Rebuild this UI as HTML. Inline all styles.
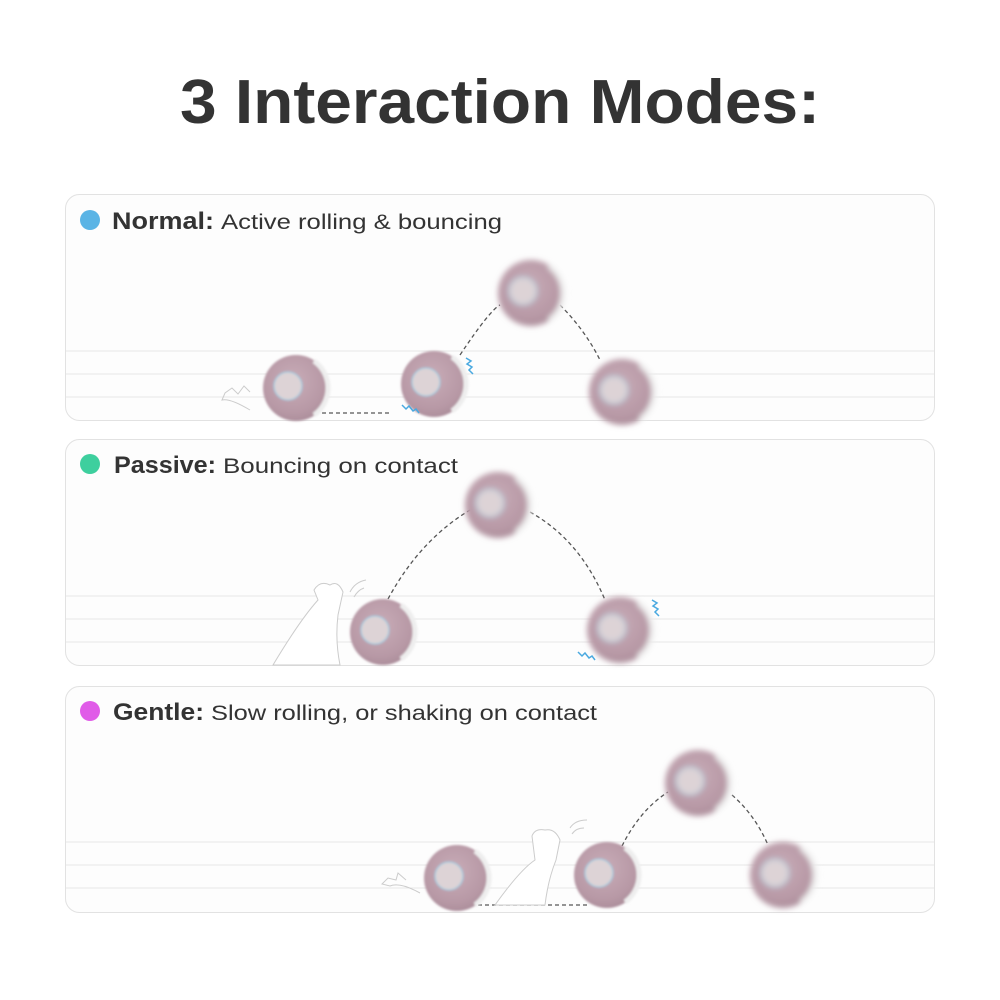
<!DOCTYPE html>
<html><head><meta charset="utf-8"><style>
html,body{margin:0;padding:0;background:#fff;width:1000px;height:1000px;overflow:hidden}
</style></head><body>
<svg width="1000" height="1000" viewBox="0 0 1000 1000" xmlns="http://www.w3.org/2000/svg" font-family="Liberation Sans, sans-serif">
<defs>
<radialGradient id="bg" cx="0.45" cy="0.4" r="0.6">
<stop offset="0" stop-color="#c9adb8"/><stop offset="0.8" stop-color="#b798a5"/><stop offset="1" stop-color="#ad8f9c"/>
</radialGradient>
<filter id="blur" x="-30%" y="-30%" width="160%" height="160%"><feGaussianBlur stdDeviation="3"/></filter>
<filter id="blur2" x="-30%" y="-30%" width="160%" height="160%"><feGaussianBlur stdDeviation="1"/></filter>
<g id="ball">
<circle r="33" fill="url(#bg)"/>
<path d="M18,-27 A33,33 0 0 1 18,27" stroke="#eee" stroke-width="5" fill="none"/>
<circle cx="-8" cy="-2" r="14" fill="#ddd3d6" stroke="#a9c9dc" stroke-width="1.5"/>
</g>
</defs>
<text x="180" y="123" font-size="62" font-weight="bold" fill="#333" textLength="640" lengthAdjust="spacingAndGlyphs">3 Interaction Modes:</text>

<!-- panel 1 -->
<rect x="65.5" y="194.5" width="869" height="226" rx="14" fill="#fdfdfd" stroke="#e2e2e2"/>
<g stroke="#e6e6e6"><line x1="66" y1="351" x2="934" y2="351"/><line x1="66" y1="374" x2="934" y2="374"/><line x1="66" y1="397" x2="934" y2="397"/></g>
<circle cx="90" cy="220" r="10" fill="#5ab4e5"/>
<text x="112" y="229" font-size="24" font-weight="bold" fill="#333" textLength="102" lengthAdjust="spacingAndGlyphs">Normal:</text>
<text x="221" y="229" font-size="21" fill="#333" textLength="281" lengthAdjust="spacingAndGlyphs">Active rolling &amp; bouncing</text>
<g stroke="#555" stroke-width="1.3" stroke-dasharray="4,3" fill="none">
<line x1="322" y1="413" x2="390" y2="413"/>
<path d="M460,355 Q490,310 500,305"/>
<path d="M560,305 Q585,330 600,360"/>
</g>
<path d="M250,410 Q230,398 222,400 L225,393 L232,388 L238,394 L244,386 L250,392" stroke="#ccc" fill="none"/>
<use href="#ball" x="296" y="388" filter="url(#blur2)"/>
<use href="#ball" x="434" y="384" filter="url(#blur2)"/>
<use href="#ball" x="531" y="293" filter="url(#blur)"/>
<use href="#ball" x="622" y="392" filter="url(#blur)"/>
<g stroke="#4aa9e0" stroke-width="1.5" fill="none">
<path d="M402,405 l4,4 l3,-3 l4,5 l3,-2 l3,4"/>
<path d="M466,358 l5,3 l-4,3 l5,3 l-3,3 l4,4"/>
</g>

<!-- panel 2 -->
<rect x="65.5" y="439.5" width="869" height="226" rx="14" fill="#fdfdfd" stroke="#e2e2e2"/>
<g stroke="#e6e6e6"><line x1="66" y1="596" x2="934" y2="596"/><line x1="66" y1="619" x2="934" y2="619"/><line x1="66" y1="642" x2="934" y2="642"/></g>
<circle cx="90" cy="464" r="10" fill="#3ecf9e"/>
<text x="114" y="473" font-size="24" font-weight="bold" fill="#333" textLength="102" lengthAdjust="spacingAndGlyphs">Passive:</text>
<text x="223" y="473" font-size="21" fill="#333" textLength="235" lengthAdjust="spacingAndGlyphs">Bouncing on contact</text>
<g stroke="#555" stroke-width="1.3" stroke-dasharray="4,3" fill="none">
<path d="M388,599 Q420,540 470,510"/>
<path d="M530,512 Q580,540 605,600"/>
</g>
<path d="M273,665 Q300,620 318,600 L314,590 Q320,580 330,585 Q338,580 343,592 L338,615 Q335,640 340,665 Z" fill="#fff" stroke="#ccc"/>
<path d="M350,592 Q355,582 366,580 M354,597 Q358,590 364,588" stroke="#ccc" fill="none"/>
<use href="#ball" x="383" y="632" filter="url(#blur2)"/>
<use href="#ball" x="498" y="505" filter="url(#blur)"/>
<use href="#ball" x="620" y="630" filter="url(#blur)"/>
<g stroke="#4aa9e0" stroke-width="1.5" fill="none">
<path d="M578,652 l4,4 l3,-3 l4,5 l3,-2 l3,4"/>
<path d="M652,600 l5,3 l-4,3 l5,3 l-3,3 l4,4"/>
</g>

<!-- panel 3 -->
<rect x="65.5" y="686.5" width="869" height="226" rx="14" fill="#fdfdfd" stroke="#e2e2e2"/>
<g stroke="#e6e6e6"><line x1="66" y1="842" x2="934" y2="842"/><line x1="66" y1="865" x2="934" y2="865"/><line x1="66" y1="888" x2="934" y2="888"/></g>
<circle cx="90" cy="711" r="10" fill="#e05ce8"/>
<text x="113" y="720" font-size="24" font-weight="bold" fill="#333" textLength="91" lengthAdjust="spacingAndGlyphs">Gentle:</text>
<text x="211" y="720" font-size="21" fill="#333" textLength="386" lengthAdjust="spacingAndGlyphs">Slow rolling, or shaking on contact</text>
<g stroke="#555" stroke-width="1.3" stroke-dasharray="4,3" fill="none">
<line x1="478" y1="905" x2="590" y2="905"/>
<path d="M622,846 Q640,810 668,792"/>
<path d="M732,795 Q755,815 768,845"/>
</g>
<path d="M420,893 Q400,882 390,886 L382,884 L388,878 L396,880 L398,873 L406,880" stroke="#ccc" fill="none"/>
<path d="M495,905 Q520,870 535,860 L532,836 Q535,828 545,830 Q555,828 560,840 L556,860 Q548,880 545,905 Z" fill="#fff" stroke="#ccc"/>
<path d="M570,828 Q575,820 587,820 M572,834 Q576,828 584,828" stroke="#ccc" fill="none"/>
<use href="#ball" x="457" y="878" filter="url(#blur2)"/>
<use href="#ball" x="607" y="875" filter="url(#blur2)"/>
<use href="#ball" x="698" y="783" filter="url(#blur)"/>
<use href="#ball" x="783" y="875" filter="url(#blur)"/>
</svg>
</body></html>
